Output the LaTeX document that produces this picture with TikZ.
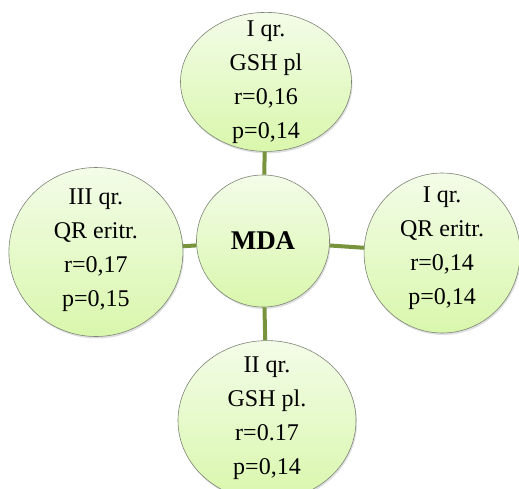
\documentclass[tikz,border=0pt]{standalone}
\usepackage{fontspec}
\setmainfont{Liberation Serif}
\usetikzlibrary{positioning}
\usetikzlibrary{shapes.geometric}
\usetikzlibrary{shadows}

\definecolor{bubbletop}{RGB}{243,252,232}
\definecolor{bubblebot}{RGB}{217,247,172}
\definecolor{bubbleline}{RGB}{125,132,118}
\definecolor{linkgreen}{RGB}{119,147,60}

\tikzset{
  bubble/.style={draw=bubbleline, line width=0.6pt, ellipse, inner sep=0pt,
    top color=bubbletop, bottom color=bubblebot,
    drop shadow={opacity=0.25, shadow xshift=1pt, shadow yshift=-2pt}},
  bubbletext/.style={align=center, font=\fontsize{24}{34}\selectfont},
  link/.style={draw=linkgreen, line width=4pt}
}

\begin{document}
\begin{tikzpicture}[x=1pt, y=-1pt]
\clip (0,0) rectangle (519,488);
\node[bubble, minimum width=133pt, minimum height=132pt](mda) at (263,241){};
\node[font=\fontsize{27}{32}\selectfont\bfseries](mdatext) at (mda){MDA};
\node[bubble, minimum width=171pt, minimum height=139pt](qrtop)[above=23pt of mda, xshift=3pt]{};
\node[bubbletext](qrtoptext) at (qrtop.center){I qr.\\GSH pl\\r=0,16\\p=0,14};
\node[bubble, minimum width=174pt, minimum height=169pt](qrleft)[left=13pt of mda, yshift=-11pt]{};
\node[bubbletext](qrlefttext) at ([yshift=2pt]qrleft.center){III qr.\\QR eritr.\\r=0,17\\p=0,15};
\node[bubble, minimum width=156pt, minimum height=160pt](qrright)[right=34pt of mda, yshift=-12pt]{};
\node[bubbletext](qrrighttext) at ([yshift=5pt]qrright.center){I qr.\\QR eritr.\\r=0,14\\p=0,14};
\node[bubble, minimum width=178pt, minimum height=160pt](qrbottom)[below=33pt of mda, xshift=4pt]{};
\node[bubbletext](qrbottomtext) at ([yshift=2pt]qrbottom.center){II qr.\\GSH pl.\\r=0.17\\p=0,14};
\draw[link](mda)--(qrtop);
\draw[link](mda)--(qrleft);
\draw[link](mda)--(qrright);
\draw[link](mda)--(qrbottom);
\end{tikzpicture}
\end{document}
